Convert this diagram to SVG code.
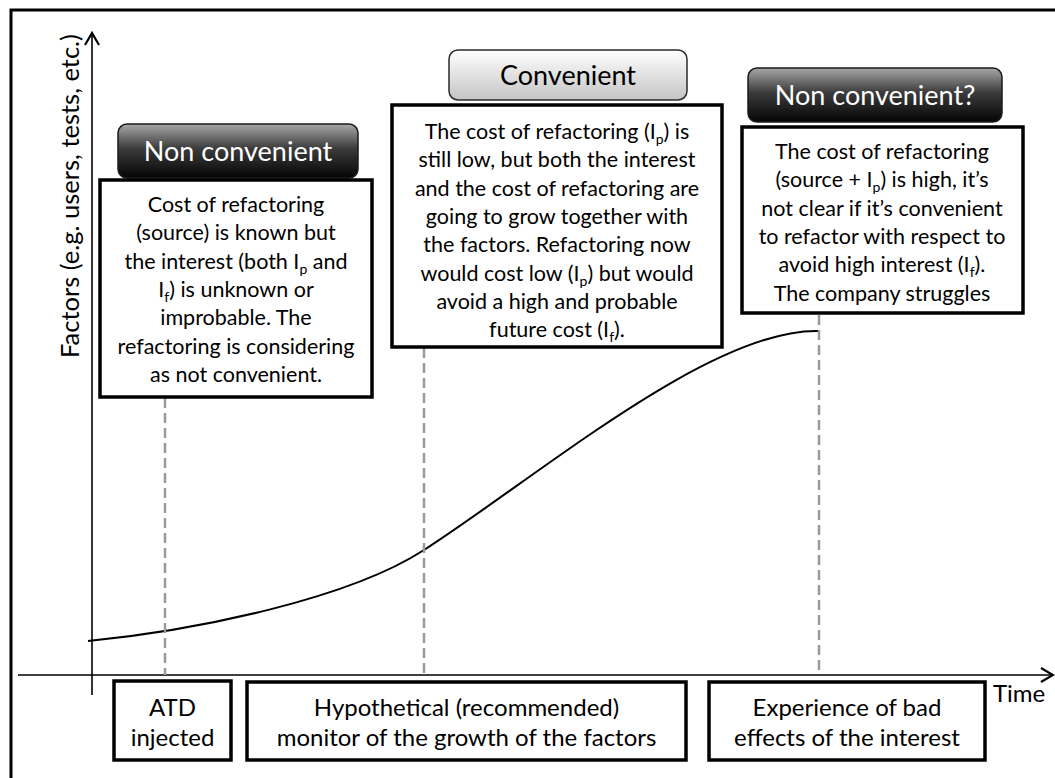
<svg xmlns="http://www.w3.org/2000/svg" width="1055" height="778" viewBox="0 0 1055 778">
  <defs>
    <linearGradient id="darkFill" x1="0" y1="0" x2="0" y2="1">
      <stop offset="0" stop-color="#a8a8a8"/>
      <stop offset="0.45" stop-color="#3c3c3c"/>
      <stop offset="1" stop-color="#050505"/>
    </linearGradient>
    <linearGradient id="lightFill" x1="0" y1="0" x2="0" y2="1">
      <stop offset="0" stop-color="#ffffff"/>
      <stop offset="1" stop-color="#c4c4c4"/>
    </linearGradient>
    <marker id="openArrow" markerWidth="20" markerHeight="20" refX="14" refY="8" orient="auto" markerUnits="userSpaceOnUse">
      <path d="M2,1 L14,8 L2,15" fill="none" stroke="#000" stroke-width="2.2"/>
    </marker>
  </defs>
  <style>
    text { font-family: Lato, "Open Sans", "Liberation Sans", sans-serif; fill: #000; }
    .frame { fill: none; stroke: #000; stroke-width: 3; }
    .box { fill: #fff; stroke: #000; stroke-width: 3.5; }
    .hdark { fill: url(#darkFill); stroke: #1a1a1a; stroke-width: 1.5; }
    .hlight { fill: url(#lightFill); stroke: #2a2a2a; stroke-width: 1.5; }
    .htxt { font-size: 27px; text-anchor: middle; }
    .htxt.w { fill: #fff; }
    .btxt { font-size: 21.5px; text-anchor: middle; }
    .ltxt { font-size: 24px; text-anchor: middle; }
    .sub { font-size: 14px; }
    .axis { fill: none; stroke: #000; stroke-width: 1.6; }
    .guide { fill: none; stroke: #9a9a9a; stroke-width: 2.5; stroke-dasharray: 10 5; }
    .curve { fill: none; stroke: #000; stroke-width: 2; }
  </style>

  <!-- outer frame, open to the right and bottom -->
  <rect class="frame" x="11" y="10" width="1060" height="780"/>

  <!-- axes, growth curve and guide lines -->
  <g id="connectors">
    <line class="axis" x1="92" y1="695" x2="92" y2="33" marker-end="url(#openArrow)"/>
    <line class="axis" x1="18" y1="675" x2="1053" y2="675" marker-end="url(#openArrow)"/>
    <path class="curve" d="M88,641 C200,630 350,598 424,550 C540,475 712,328 819,331"/>
    <line class="guide" x1="165" y1="398" x2="165" y2="675"/>
    <line class="guide" x1="424" y1="348" x2="424" y2="675"/>
    <line class="guide" x1="819" y1="315" x2="819" y2="675"/>
  </g>

  <g id="y-label">
    <text transform="translate(79,358) rotate(-90)" font-size="25.5px">Factors (e.g. users, tests, etc.)</text>
  </g>
  <g id="x-label">
    <text x="993" y="702" font-size="24px">Time</text>
  </g>

  <!-- phase 1 -->
  <g id="header-non-convenient">
    <rect class="hdark" x="118" y="124" width="240" height="54" rx="9"/>
    <text class="htxt w" x="238" y="161">Non convenient</text>
  </g>
  <g id="note-phase1">
    <rect class="box" x="100" y="180" width="272" height="217"/>
    <text class="btxt" x="236" y="212">Cost of refactoring</text>
    <text class="btxt" x="236" y="240">(source) is known but</text>
    <text class="btxt" x="236" y="269">the interest (both I<tspan class="sub" dy="5">p</tspan><tspan dy="-5"> and</tspan></text>
    <text class="btxt" x="236" y="297">I<tspan class="sub" dy="5">f</tspan><tspan dy="-5">) is unknown or</tspan></text>
    <text class="btxt" x="236" y="325">improbable. The</text>
    <text class="btxt" x="236" y="354">refactoring is considering</text>
    <text class="btxt" x="236" y="382">as not convenient.</text>
  </g>

  <!-- phase 2 -->
  <g id="header-convenient">
    <rect class="hlight" x="449" y="50" width="238" height="50" rx="9"/>
    <text class="htxt" x="568" y="85">Convenient</text>
  </g>
  <g id="note-phase2">
    <rect class="box" x="392" y="105" width="330" height="242"/>
    <text class="btxt" x="557" y="139">The cost of refactoring (I<tspan class="sub" dy="5">p</tspan><tspan dy="-5">) is</tspan></text>
    <text class="btxt" x="557" y="167">still low, but both the interest</text>
    <text class="btxt" x="557" y="196">and the cost of refactoring are</text>
    <text class="btxt" x="557" y="224">going to grow together with</text>
    <text class="btxt" x="557" y="252">the factors. Refactoring now</text>
    <text class="btxt" x="557" y="281">would cost low (I<tspan class="sub" dy="5">p</tspan><tspan dy="-5">) but would</tspan></text>
    <text class="btxt" x="557" y="309">avoid a high and probable</text>
    <text class="btxt" x="557" y="337">future cost (I<tspan class="sub" dy="5">f</tspan><tspan dy="-5">).</tspan></text>
  </g>

  <!-- phase 3 -->
  <g id="header-non-convenient-q">
    <rect class="hdark" x="748" y="68" width="254" height="54" rx="9"/>
    <text class="htxt w" x="875" y="105">Non convenient?</text>
  </g>
  <g id="note-phase3">
    <rect class="box" x="742" y="127" width="281" height="186"/>
    <text class="btxt" x="882" y="159">The cost of refactoring</text>
    <text class="btxt" x="882" y="187">(source + I<tspan class="sub" dy="5">p</tspan><tspan dy="-5">) is high, it’s</tspan></text>
    <text class="btxt" x="882" y="216">not clear if it’s convenient</text>
    <text class="btxt" x="882" y="244">to refactor with respect to</text>
    <text class="btxt" x="882" y="272">avoid high interest (I<tspan class="sub" dy="5">f</tspan><tspan dy="-5">).</tspan></text>
    <text class="btxt" x="882" y="301">The company struggles</text>
  </g>

  <!-- timeline labels -->
  <g id="label-atd">
    <rect class="box" x="114" y="681" width="117" height="79"/>
    <text class="ltxt" x="172.5" y="716">ATD</text>
    <text class="ltxt" x="172.5" y="746">injected</text>
  </g>
  <g id="label-monitor">
    <rect class="box" x="247" y="682" width="439" height="78"/>
    <text class="ltxt" x="466.5" y="716">Hypothetical (recommended)</text>
    <text class="ltxt" x="466.5" y="746">monitor of the growth of the factors</text>
  </g>
  <g id="label-experience">
    <rect class="box" x="709" y="682" width="276" height="78"/>
    <text class="ltxt" x="847" y="716">Experience of bad</text>
    <text class="ltxt" x="847" y="746">effects of the interest</text>
  </g>
</svg>
